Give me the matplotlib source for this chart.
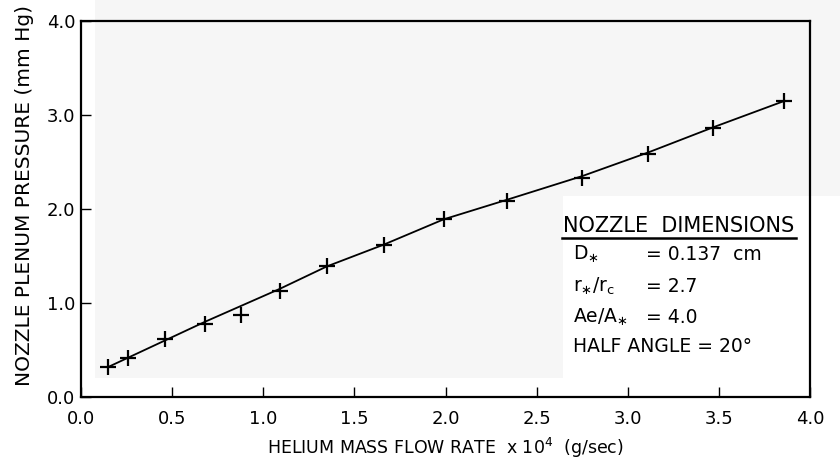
import matplotlib
matplotlib.use("Agg")
import matplotlib.pyplot as plt
from matplotlib.patches import Rectangle

# ---- data ----
flow_rate = [0.15, 0.26, 0.46, 0.68, 0.88, 1.09, 1.35, 1.66, 1.99, 2.34, 2.75, 3.11, 3.47, 3.86]
pressure = [0.32, 0.41, 0.62, 0.78, 0.87, 1.13, 1.39, 1.62, 1.89, 2.09, 2.33, 2.59, 2.86, 3.15]

fit_x = [0.15, 0.68, 1.09, 1.35, 1.66, 1.99, 2.34, 2.75, 3.11, 3.47, 3.86]
fit_y = [0.32, 0.80, 1.15, 1.39, 1.62, 1.89, 2.10, 2.35, 2.60, 2.87, 3.15]

x_ticks = [0.0, 0.5, 1.0, 1.5, 2.0, 2.5, 3.0, 3.5, 4.0]
y_ticks = [0.0, 1.0, 2.0, 3.0, 4.0]

x_label = "HELIUM MASS FLOW RATE  x 10$^4$  (g/sec)"
y_label = "NOZZLE PLENUM PRESSURE (mm Hg)"

legend_title = "NOZZLE  DIMENSIONS"
legend_names = ["D$_{\\ast}$", "r$_{\\ast}$/r$_c$", "Ae/A$_{\\ast}$"]
legend_values = ["= 0.137  cm", "= 2.7", "= 4.0"]
legend_last = "HALF ANGLE = 20°"

plt.rcParams['font.family'] = ['DejaVu Sans']
plt.rcParams['mathtext.default'] = 'regular'

fig = plt.figure(figsize=(8.4, 4.65), dpi=100, facecolor='white')

# scanned-paper grey patches
gray = '#f6f6f6'
fig.patches.append(Rectangle((95/840, 1-196/465), 1-95/840, 196/465,
                             transform=fig.transFigure, color=gray, zorder=-5, lw=0))
fig.patches.append(Rectangle((95/840, 1-378/465), (563-95)/840, (378-196)/465,
                             transform=fig.transFigure, color=gray, zorder=-5, lw=0))

ax = fig.add_axes([81/840, 1-397/465, (810-81)/840, (397-21)/465])
ax.set_facecolor('none')

ax.plot(fit_x, fit_y, color='black', lw=1.3, zorder=2)
ax.plot(flow_rate, pressure, linestyle='none', marker='+', markersize=11,
        markeredgewidth=1.6, color='black', zorder=3)

ax.set_xlim(0, 4.0)
ax.set_ylim(0, 4.0)
ax.set_xticks(x_ticks)
ax.set_yticks(y_ticks)
ax.set_xticklabels([f"{v:.1f}" for v in x_ticks])
ax.set_yticklabels([f"{v:.1f}" for v in y_ticks])
ax.tick_params(direction='in', length=7, width=1.0, labelsize=13, pad=4)
ax.tick_params(axis='x', pad=9)
for s in ax.spines.values():
    s.set_linewidth(1.6)

ax.set_xlabel(x_label, fontsize=12.5, labelpad=6)
ax.set_ylabel(y_label, fontsize=14.5)
ax.yaxis.set_label_coords((34-81)/729, (397-195)/376)

# white legend box
fig.patches.append(Rectangle((563/840, 1-378/465), (795-563)/840, (378-196)/465,
                             transform=fig.transFigure, color='white', zorder=-4, lw=0))

def fx(px):
    return px/840
def fy(py):
    return 1-py/465

fig.text(fx(563), fy(232), legend_title, fontsize=15, va='baseline', ha='left')
fig.add_artist(plt.Line2D([fx(562), fx(796)], [fy(238), fy(238)], color='black', lw=1.8,
                          transform=fig.transFigure))
rows_y = [260, 292, 323]
for name, val, yy in zip(legend_names, legend_values, rows_y):
    fig.text(fx(573), fy(yy), name, fontsize=13.5, va='baseline', ha='left')
    fig.text(fx(646), fy(yy), val, fontsize=13.5, va='baseline', ha='left')
fig.text(fx(573), fy(352), legend_last, fontsize=13.5, va='baseline', ha='left')

fig.savefig("out.png", dpi=100, facecolor='white')
